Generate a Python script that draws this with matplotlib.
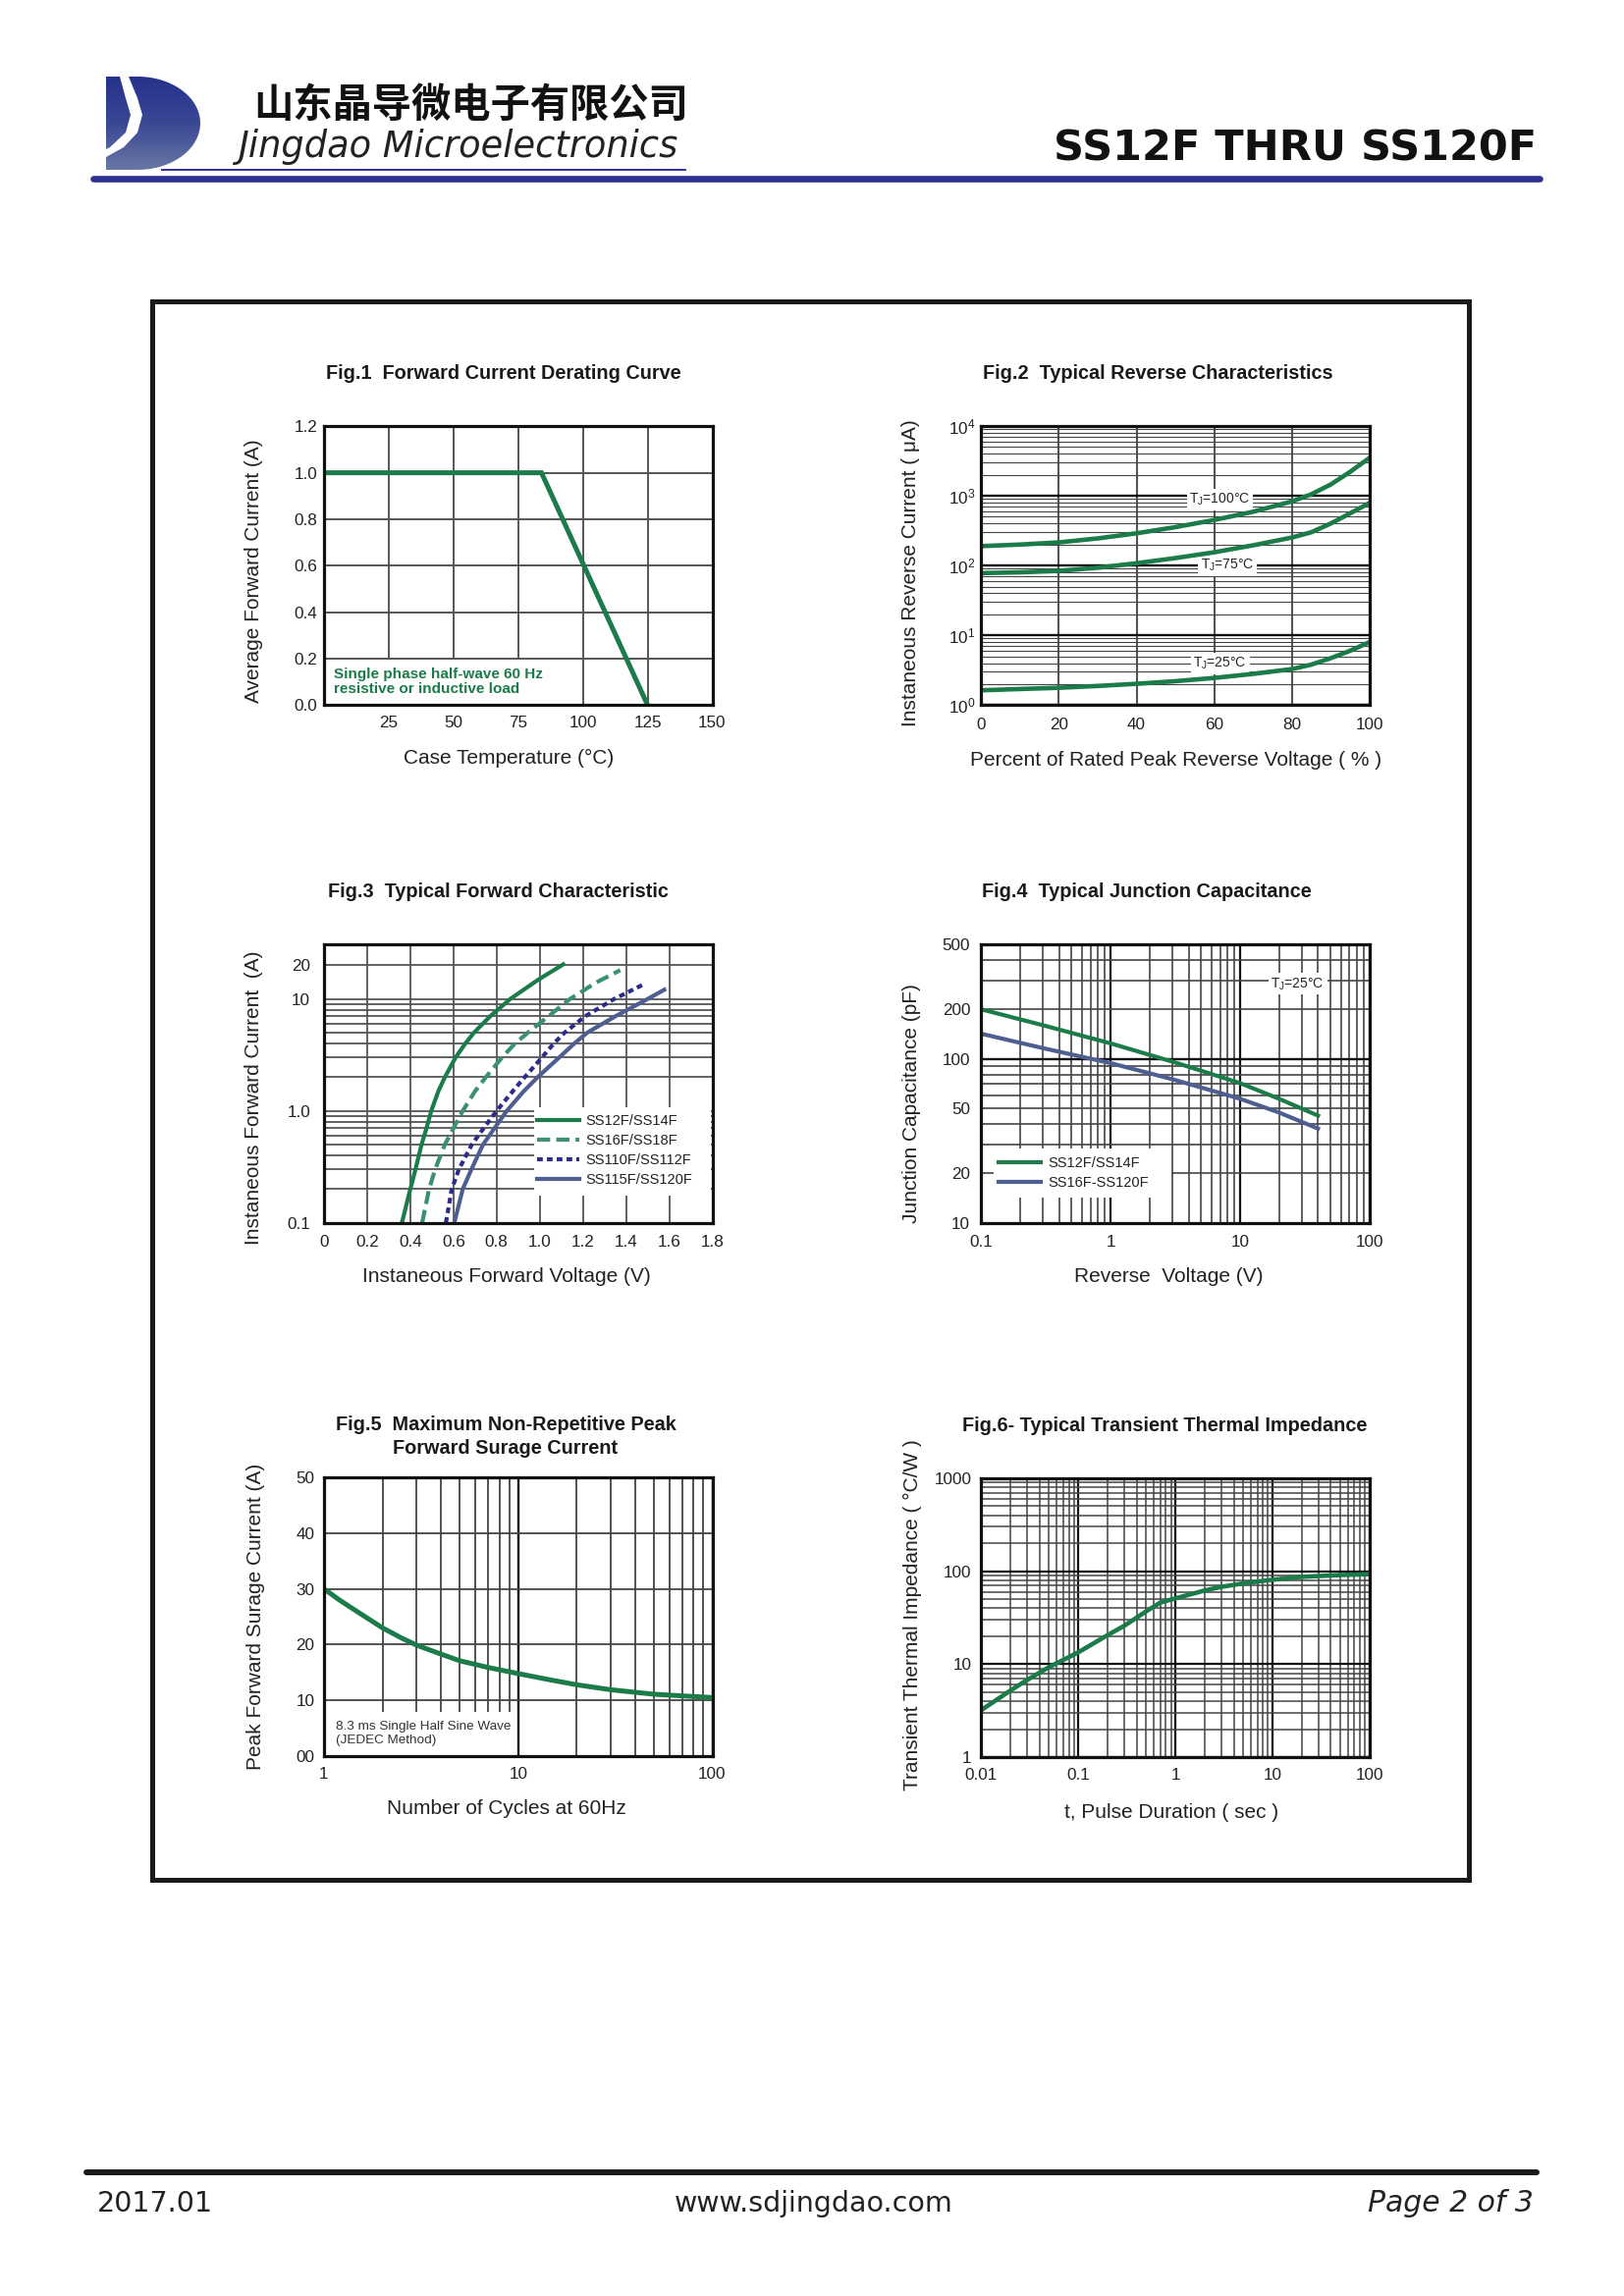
import numpy as np
import matplotlib
matplotlib.use('Agg')
import matplotlib.pyplot as plt
from matplotlib.patches import Rectangle, Polygon
from matplotlib.ticker import FixedLocator, NullFormatter, FixedFormatter, LogLocator
from matplotlib.colors import LinearSegmentedColormap

plt.rcParams['font.family'] = ['Liberation Sans', 'DejaVu Sans']
plt.rcParams['mathtext.fontset'] = 'custom'
plt.rcParams['mathtext.rm'] = 'Liberation Sans'
plt.rcParams['mathtext.it'] = 'Liberation Sans:italic'
plt.rcParams['mathtext.bf'] = 'Liberation Sans:bold'

# ---------------- data ----------------
# Fig.1 derating
fig1_temp = [0, 84, 125]
fig1_current = [1.0, 1.0, 0.0]
fig1_xticks = [25, 50, 75, 100, 125, 150]
fig1_yticks = [0.0, 0.2, 0.4, 0.6, 0.8, 1.0, 1.2]
fig1_ylabels = ['0.0', '0.2', '0.4', '0.6', '0.8', '1.0', '1.2']

# Fig.2 reverse characteristics
fig2_pct = [0, 10, 20, 30, 40, 50, 60, 70, 80, 85, 90, 95, 100]
fig2_ir_100 = [190, 200, 215, 245, 290, 355, 450, 590, 830, 1050, 1450, 2200, 3500]
fig2_ir_75 = [78, 80, 84, 93, 108, 128, 155, 195, 252, 300, 400, 560, 790]
fig2_ir_25 = [1.63, 1.70, 1.77, 1.88, 2.02, 2.2, 2.45, 2.8, 3.28, 3.8, 4.7, 6.0, 8.0]
fig2_xticks = [0, 20, 40, 60, 80, 100]
fig2_labels = [r'T$_\mathrm{J}$=100°C', r'T$_\mathrm{J}$=75°C', r'T$_\mathrm{J}$=25°C']
fig2_label_pos = [(61.5, 880), (63.5, 100), (61.5, 3.9)]

# Fig.3 forward characteristic
fig3_i = [0.1, 0.2, 0.3, 0.5, 0.7, 1.0, 1.5, 2, 3, 4, 5, 7, 10]
fig3_v1 = [0.361, 0.400, 0.424, 0.452, 0.475, 0.497, 0.530, 0.560, 0.610, 0.655, 0.695, 0.770, 0.863, 0.996, 1.109]
fig3_i1 = fig3_i + [15, 20.4]
fig3_v2 = [0.455, 0.487, 0.515, 0.560, 0.600, 0.643, 0.700, 0.750, 0.825, 0.885, 0.945, 1.040, 1.140, 1.260, 1.373]
fig3_i2 = fig3_i + [14, 18.1]
fig3_v3 = [0.565, 0.592, 0.625, 0.685, 0.740, 0.800, 0.875, 0.930, 1.010, 1.065, 1.115, 1.210, 1.345, 1.491]
fig3_i3 = fig3_i + [13.8]
fig3_v4 = [0.604, 0.643, 0.683, 0.737, 0.790, 0.847, 0.926, 0.990, 1.090, 1.160, 1.220, 1.350, 1.500, 1.577]
fig3_i4 = fig3_i + [12.1]
fig3_series = ['SS12F/SS14F', 'SS16F/SS18F', 'SS110F/SS112F', 'SS115F/SS120F']
fig3_xticks = [0, 0.2, 0.4, 0.6, 0.8, 1.0, 1.2, 1.4, 1.6, 1.8]
fig3_xlabels = ['0', '0.2', '0.4', '0.6', '0.8', '1.0', '1.2', '1.4', '1.6', '1.8']
fig3_yticks = [0.1, 1, 10, 20]
fig3_ylabels = ['0.1', '1.0', '10', '20']
fig3_yminor = [0.2, 0.3, 0.4, 0.5, 0.6, 0.7, 0.8, 0.9, 2, 3, 4, 5, 6, 7, 8, 9]

# Fig.4 junction capacitance
fig4_vr = [0.1, 0.3, 1, 3, 10, 20, 40]
fig4_c_a = [200, 160, 124, 96, 71, 57, 45]
fig4_c_b = [142, 116, 94, 75, 57, 47, 37.5]
fig4_series = ['SS12F/SS14F', 'SS16F-SS120F']
fig4_xticks = [0.1, 1, 10, 100]
fig4_xlabels = ['0.1', '1', '10', '100']
fig4_yticks = [10, 20, 50, 100, 200, 500]
fig4_ylabels = ['10', '20', '50', '100', '200', '500']
fig4_yminor = [30, 40, 60, 70, 80, 90, 300, 400]

# Fig.5 surge current
fig5_cycles = [1, 1.2, 1.5, 2, 2.5, 3, 4, 5, 7, 10, 15, 20, 30, 50, 70, 100]
fig5_ifsm = [30, 28.0, 25.8, 23.0, 21.2, 19.9, 18.3, 17.1, 15.9, 14.8, 13.6, 12.8, 11.9, 11.1, 10.8, 10.5]
fig5_xticks = [1, 10, 100]
fig5_xlabels = ['1', '10', '100']
fig5_yticks = [0, 10, 20, 30, 40, 50]
fig5_ylabels = ['00', '10', '20', '30', '40', '50']

# Fig.6 transient thermal impedance
fig6_t = [0.01, 0.02, 0.03, 0.05, 0.1, 0.2, 0.3, 0.5, 0.7, 1, 2, 3, 5, 10, 20, 50, 100]
fig6_z = [3.2, 5.2, 6.8, 9.3, 13.4, 20.5, 26, 37, 46, 51, 62, 68, 74, 81, 87, 91, 93]
fig6_xticks = [0.01, 0.1, 1, 10, 100]
fig6_xlabels = ['0.01', '0.1', '1', '10', '100']
fig6_yticks = [1, 10, 100, 1000]
fig6_ylabels = ['1', '10', '100', '1000']

# ---------------- styles ----------------
GREEN = '#1b7b49'
GREEN2 = '#3a9070'
NAVY = '#2c2c8c'
SLATE = '#4e5e90'
BLUE = '#2e3192'
GRID = '#555555'
DARK = '#111111'
TXT = '#222222'

W, H = 1654, 2339
fig = plt.figure(figsize=(W / 100, H / 100), dpi=100)

pg = fig.add_axes([0, 0, 1, 1])
pg.set_zorder(0)
pg.axis('off')


def make_ax(l, r, t, b):
    ax = fig.add_axes([l / W, 1 - b / H, (r - l) / W, (b - t) / H])
    ax.set_zorder(1)
    ax.set_facecolor('white')
    for s in ax.spines.values():
        s.set_linewidth(2.3)
        s.set_color(DARK)
        s.set_zorder(6)
    ax.set_axisbelow(True)
    return ax


def ticks(ax, xpad, ypad):
    ax.tick_params(which='both', length=0, labelsize=12.3, labelcolor=TXT)
    ax.tick_params(axis='x', pad=xpad)
    ax.tick_params(axis='y', pad=ypad)


def mask(ax, x, y, w, h):
    ax.add_patch(Rectangle((x, y), w, h, transform=ax.transAxes,
                           fc='white', ec='none', zorder=2))


# ---------------- Fig.1 ----------------
ax1 = make_ax(330, 725.5, 434.3, 718.3)
ax1.plot(fig1_temp, fig1_current, color=GREEN, lw=3.6, zorder=4,
         solid_joinstyle='miter')
ax1.set_xlim(0, 150)
ax1.set_ylim(0, 1.2)
ax1.set_xticks(fig1_xticks)
ax1.set_yticks(fig1_yticks)
ax1.set_yticklabels(fig1_ylabels)
ax1.grid(True, color=GRID, lw=1.4)
ticks(ax1, 8, 5)
mask(ax1, 0.005, 0.005, 0.595, 0.158)
ax1.text(0.026, 0.083, 'Single phase half-wave 60 Hz\nresistive or inductive load',
         transform=ax1.transAxes, color=GREEN, fontsize=11, fontweight='bold',
         ha='left', va='center', linespacing=1.1, zorder=3)

# ---------------- Fig.2 ----------------
ax2 = make_ax(999.3, 1394.8, 434, 718.3)
ax2.set_yscale('log')
for yv in (fig2_ir_100, fig2_ir_75, fig2_ir_25):
    ax2.plot(fig2_pct, yv, color=GREEN, lw=3.3, zorder=4)
ax2.set_xlim(0, 100)
ax2.set_ylim(1, 1e4)
ax2.set_xticks(fig2_xticks)
ax2.yaxis.set_major_locator(FixedLocator([1, 10, 100, 1000, 10000]))
ax2.yaxis.set_minor_locator(LogLocator(base=10, subs=np.arange(2, 10)))
ax2.yaxis.set_minor_formatter(NullFormatter())
ax2.xaxis.grid(True, color=GRID, lw=1.5)
ax2.yaxis.grid(True, which='major', color=DARK, lw=1.7)
ax2.yaxis.grid(True, which='minor', color='#444444', lw=0.8)
ticks(ax2, 9, 4.5)
for lab, (xx, yy) in zip(fig2_labels, fig2_label_pos):
    ax2.text(xx, yy, lab, ha='center', va='center', fontsize=10, color=TXT,
             zorder=3, bbox=dict(fc='white', ec='none', pad=2))

# ---------------- Fig.3 ----------------
ax3 = make_ax(330, 725.5, 961.7, 1245.7)
ax3.set_yscale('log')
l1, = ax3.plot(fig3_v1, fig3_i1, color=GREEN, lw=3.0, zorder=4, label=fig3_series[0])
l2, = ax3.plot(fig3_v2, fig3_i2, color=GREEN2, lw=3.0, zorder=4, label=fig3_series[1],
               dashes=(3.2, 1.5))
l3, = ax3.plot(fig3_v3, fig3_i3, color=NAVY, lw=3.0, zorder=4, label=fig3_series[2],
               dashes=(1.4, 1.0))
l4, = ax3.plot(fig3_v4, fig3_i4, color=SLATE, lw=3.0, zorder=4, label=fig3_series[3])
ax3.set_xlim(0, 1.8)
ax3.set_ylim(0.1, 31)
ax3.set_xticks(fig3_xticks)
ax3.set_xticklabels(fig3_xlabels)
ax3.yaxis.set_major_locator(FixedLocator(fig3_yticks))
ax3.yaxis.set_major_formatter(FixedFormatter(fig3_ylabels))
ax3.yaxis.set_minor_locator(FixedLocator(fig3_yminor))
ax3.yaxis.set_minor_formatter(NullFormatter())
ax3.grid(True, which='both', color=GRID, lw=1.3)
ticks(ax3, 8.5, 10)
mask(ax3, 0.54, 0.096, 0.455, 0.317)
leg3 = ax3.legend(handles=[l1, l2, l3, l4], loc='upper left',
                  bbox_to_anchor=(0.534, 0.41), frameon=False, fontsize=10.5,
                  handlelength=2.95, handletextpad=0.45, labelspacing=0.42,
                  borderpad=0.4, borderaxespad=0)
leg3.set_zorder(5)
for t in leg3.get_texts():
    t.set_color(TXT)

# ---------------- Fig.4 ----------------
ax4 = make_ax(999.3, 1394.8, 961.7, 1245.7)
ax4.set_xscale('log')
ax4.set_yscale('log')
m1, = ax4.plot(fig4_vr, fig4_c_a, color=GREEN, lw=3.0, zorder=4, label=fig4_series[0])
m2, = ax4.plot(fig4_vr, fig4_c_b, color=SLATE, lw=3.0, zorder=4, label=fig4_series[1])
ax4.set_xlim(0.1, 100)
ax4.set_ylim(10, 500)
ax4.xaxis.set_major_locator(FixedLocator(fig4_xticks))
ax4.xaxis.set_major_formatter(FixedFormatter(fig4_xlabels))
ax4.xaxis.set_minor_locator(LogLocator(base=10, subs=np.arange(2, 10)))
ax4.xaxis.set_minor_formatter(NullFormatter())
ax4.yaxis.set_major_locator(FixedLocator(fig4_yticks))
ax4.yaxis.set_major_formatter(FixedFormatter(fig4_ylabels))
ax4.yaxis.set_minor_locator(FixedLocator(fig4_yminor))
ax4.yaxis.set_minor_formatter(NullFormatter())
ax4.xaxis.grid(True, which='major', color=DARK, lw=1.6)
ax4.xaxis.grid(True, which='minor', color='#444444', lw=1.2)
ax4.yaxis.grid(True, which='both', color='#444444', lw=1.2)
ticks(ax4, 9, 8)
fig.canvas.draw()
for tk in ax4.yaxis.get_major_ticks():
    if abs(tk.get_loc() - 100) < 1e-6:
        tk.gridline.set_color(DARK)
        tk.gridline.set_linewidth(1.7)
ax4.text(0.815, 0.857, r'T$_\mathrm{J}$=25°C', transform=ax4.transAxes,
         ha='center', va='center', fontsize=10, color=TXT, zorder=3,
         bbox=dict(fc='white', ec='none', pad=2))
mask(ax4, 0.032, 0.09, 0.458, 0.176)
leg4 = ax4.legend(handles=[m1, m2], loc='upper left', bbox_to_anchor=(0.031, 0.26),
                  frameon=False, fontsize=10.5, handlelength=2.95,
                  handletextpad=0.45, labelspacing=0.42, borderpad=0.4,
                  borderaxespad=0)
leg4.set_zorder(5)
for t in leg4.get_texts():
    t.set_color(TXT)

# ---------------- Fig.5 ----------------
ax5 = make_ax(330, 725.5, 1505, 1789)
ax5.set_xscale('log')
ax5.plot(fig5_cycles, fig5_ifsm, color=GREEN, lw=3.6, zorder=4)
ax5.set_xlim(1, 100)
ax5.set_ylim(0, 50)
ax5.xaxis.set_major_locator(FixedLocator(fig5_xticks))
ax5.xaxis.set_major_formatter(FixedFormatter(fig5_xlabels))
ax5.xaxis.set_minor_locator(LogLocator(base=10, subs=np.arange(2, 10)))
ax5.xaxis.set_minor_formatter(NullFormatter())
ax5.set_yticks(fig5_yticks)
ax5.set_yticklabels(fig5_ylabels)
ax5.xaxis.grid(True, which='major', color=DARK, lw=1.7)
ax5.xaxis.grid(True, which='minor', color='#444444', lw=1.3)
ax5.yaxis.grid(True, which='major', color='#444444', lw=1.3)
ticks(ax5, 8, 7)
mask(ax5, 0.005, 0.005, 0.49, 0.155)
ax5.text(0.03, 0.081, '8.3 ms Single Half Sine Wave\n(JEDEC Method)',
         transform=ax5.transAxes, fontsize=9.7, color='#333333', ha='left',
         va='center', linespacing=1.2, zorder=3)

# ---------------- Fig.6 ----------------
ax6 = make_ax(999.3, 1394.8, 1506, 1790)
ax6.set_xscale('log')
ax6.set_yscale('log')
ax6.plot(fig6_t, fig6_z, color=GREEN, lw=3.3, zorder=4)
ax6.set_xlim(0.01, 100)
ax6.set_ylim(1, 1000)
ax6.xaxis.set_major_locator(FixedLocator(fig6_xticks))
ax6.xaxis.set_major_formatter(FixedFormatter(fig6_xlabels))
ax6.yaxis.set_major_locator(FixedLocator(fig6_yticks))
ax6.yaxis.set_major_formatter(FixedFormatter(fig6_ylabels))
for axis in (ax6.xaxis, ax6.yaxis):
    axis.set_minor_locator(LogLocator(base=10, subs=np.arange(2, 10)))
    axis.set_minor_formatter(NullFormatter())
ax6.grid(True, which='major', color=DARK, lw=1.6)
ax6.grid(True, which='minor', color='#444444', lw=1.1)
ticks(ax6, 8, 7)

# ---------------- titles and axis labels ----------------
TS = 14.3
LS = 15
titles = [
    (513, 386, 'Fig.1  Forward Current Derating Curve'),
    (1179, 386, 'Fig.2  Typical Reverse Characteristics'),
    (507, 914.5, 'Fig.3  Typical Forward Characteristic'),
    (1168, 914.5, 'Fig.4  Typical Junction Capacitance'),
    (515, 1457, 'Fig.5  Maximum Non-Repetitive Peak'),
    (515, 1481, 'Forward Surage Current'),
    (1186, 1458, 'Fig.6- Typical Transient Thermal Impedance'),
]
for x, y, s in titles:
    pg.text(x, y, s, ha='center', va='baseline', fontsize=TS, fontweight='bold',
            color='#1a1a1a')

xlabels = [
    (518, 777.5, 'Case Temperature (°C)'),
    (1198, 780, 'Percent of Rated Peak Reverse Voltage ( % )'),
    (515.5, 1306.5, 'Instaneous Forward Voltage (V)'),
    (1190, 1305.5, 'Reverse  Voltage (V)'),
    (516, 1848, 'Number of Cycles at 60Hz'),
    (1193, 1852, 't, Pulse Duration ( sec )'),
]
for x, y, s in xlabels:
    pg.text(x, y, s, ha='center', va='baseline', fontsize=LS, color=TXT)

ylabels = [
    (259, 582, 'Average Forward Current (A)'),
    (927.5, 584, 'Instaneous Reverse Current ( μA)'),
    (259, 1118, 'Instaneous Forward Current  (A)'),
    (929, 1124, 'Junction Capacitance (pF)'),
    (261, 1647, 'Peak Forward Surage Current (A)'),
    (929, 1645, 'Transient Thermal Impedance ( °C/W )'),
]
for x, y, s in ylabels:
    pg.text(x, y, s, ha='center', va='center', rotation=90, fontsize=LS,
            color=TXT)

# ---------------- page frame, header, footer ----------------
pg.add_patch(Rectangle((155, 307), 1341, 1608, fill=False, lw=3.6,
                       ec='#1a1a1a', zorder=1))
pg.plot([95, 1568], [182, 182], color=BLUE, lw=4.8, solid_capstyle='round')
pg.plot([165, 698], [173, 173], color=BLUE, lw=1.4)
pg.plot([88, 1565], [2213, 2213], color='#1a1a1a', lw=4.3, solid_capstyle='round')

# logo
theta = np.linspace(np.pi / 2, -np.pi / 2, 60)
d_verts = [(108, 78), (140, 78)] + \
    [(140 + 64 * np.cos(t), 125.5 - 47.5 * np.sin(t)) for t in theta] + [(108, 173)]
d_patch = Polygon(d_verts, closed=True, fc='none', ec='none', transform=pg.transData)
pg.add_patch(d_patch)
cmap = LinearSegmentedColormap.from_list('logo', ['#26318a', '#3a4794', '#6a78a5'])
grad = np.linspace(0, 1, 200).reshape(-1, 1)
im = pg.imshow(grad, extent=[105, 207, 174, 77], cmap=cmap, aspect='auto',
               zorder=2, interpolation='bilinear')
im.set_clip_path(d_patch)
cres_outer = [(131, 78), (140, 100), (145, 117), (140, 135), (126, 150), (108, 160)]
cres_inner = [(108, 152), (112, 150), (128, 135), (133, 117), (128, 100), (122, 78)]
pg.add_patch(Polygon(cres_outer + cres_inner, closed=True, fc='white', ec='none',
                     zorder=3))

pg.text(258, 107, '山东晶导微电子有限公司', family=['Noto Sans CJK SC'],
        fontweight='bold', fontsize=29, ha='left', va='center', color='#111111')
pg.text(242, 160, 'Jingdao Microelectronics', family=['DejaVu Sans'],
        style='italic', fontsize=26.5, ha='left', va='baseline', color='#222222')
pg.text(1565, 164, 'SS12F THRU SS120F', family=['DejaVu Sans'], fontweight='bold',
        fontsize=31, ha='right', va='baseline', color='#111111')

pg.text(99, 2253, '2017.01', family=['DejaVu Sans'], fontsize=20.5, ha='left',
        va='baseline', color='#222222')
pg.text(829, 2253, 'www.sdjingdao.com', family=['DejaVu Sans'], fontsize=20.5,
        ha='center', va='baseline', color='#222222')
pg.text(1562, 2253, 'Page 2 of 3', family=['DejaVu Sans'], style='italic',
        fontsize=21.5, ha='right', va='baseline', color='#222222')

pg.set_xlim(0, W)
pg.set_ylim(H, 0)

fig.savefig('out.png', dpi=100, facecolor='white')
